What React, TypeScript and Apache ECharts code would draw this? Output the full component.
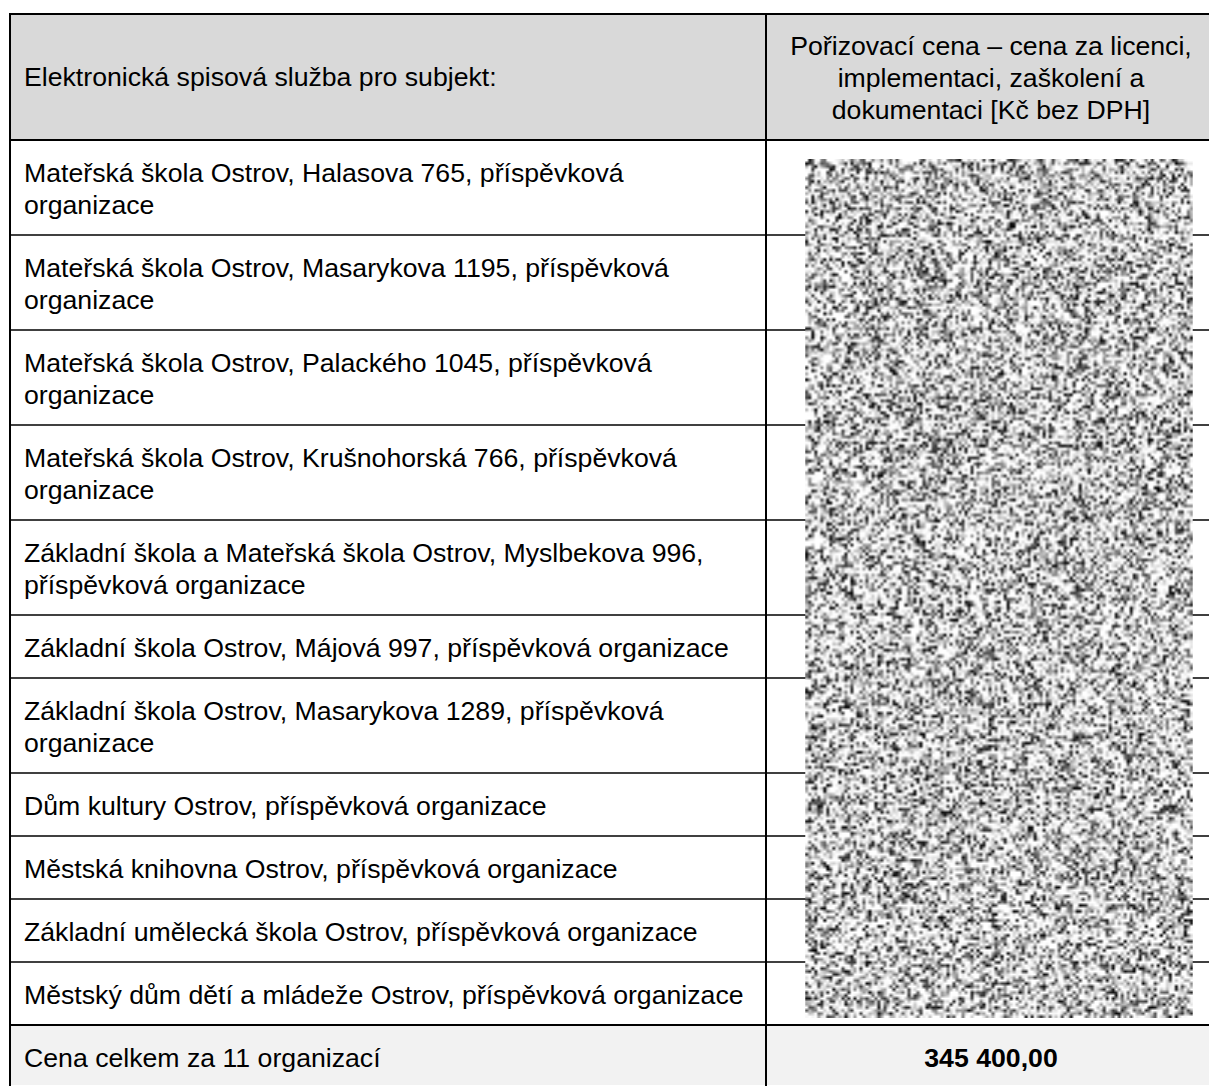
import React, { useEffect, useRef } from "react";
import * as echarts from "echarts";

// ---- content ----
const headerLabels = [
  "Elektronická spisová služba pro subjekt:",
  "Pořizovací cena – cena za licenci,\nimplementaci, zaškolení a\ndokumentaci [Kč bez DPH]",
];
const organizations = [
  "Mateřská škola Ostrov, Halasova 765, příspěvková\norganizace",
  "Mateřská škola Ostrov, Masarykova 1195, příspěvková\norganizace",
  "Mateřská škola Ostrov, Palackého 1045, příspěvková\norganizace",
  "Mateřská škola Ostrov, Krušnohorská 766, příspěvková\norganizace",
  "Základní škola a Mateřská škola Ostrov, Myslbekova 996,\npříspěvková organizace",
  "Základní škola Ostrov, Májová 997, příspěvková organizace",
  "Základní škola Ostrov, Masarykova 1289, příspěvková\norganizace",
  "Dům kultury Ostrov, příspěvková organizace",
  "Městská knihovna Ostrov, příspěvková organizace",
  "Základní umělecká škola Ostrov, příspěvková organizace",
  "Městský dům dětí a mládeže Ostrov, příspěvková organizace",
];
const totalLabel = "Cena celkem za 11 organizací";
const totalValue = "345 400,00";

// ---- layout ----
const L = 10;
const R = 1214;
const DIV = 766;
const TOP = 14;
const HEADER_H = 126;
const LINE_H = 32;
const PAD = 31;
const TOTAL_H = 60;
const FONT = "'Liberation Sans', Arial, sans-serif";
const FS = 26.67;
const TEXT_X = 24;
const COL2_CX = 991;

function makeNoise(w: number, h: number): string {
  const c = document.createElement("canvas");
  c.width = w;
  c.height = h;
  const ctx = c.getContext("2d")!;
  const img = ctx.createImageData(w, h);
  // deterministic texture generator (redaction pattern, not data)
  let s = 123456789;
  const rnd = () => {
    s |= 0;
    s = (s + 0x6d2b79f5) | 0;
    let t = Math.imul(s ^ (s >>> 15), 1 | s);
    t = (t + Math.imul(t ^ (t >>> 7), 61 | t)) ^ t;
    return ((t ^ (t >>> 14)) >>> 0) / 4294967296;
  };
  for (let i = 0; i < w * h; i++) {
    const r = rnd();
    const v = Math.max(0, Math.min(255, Math.round(275 * (1 - Math.pow(r, 2.1)))));
    img.data[i * 4] = v;
    img.data[i * 4 + 1] = v;
    img.data[i * 4 + 2] = v;
    img.data[i * 4 + 3] = 255;
  }
  ctx.putImageData(img, 0, 0);
  return c.toDataURL();
}

export default function App() {
  const ref = useRef<HTMLDivElement>(null);
  useEffect(() => {
    if (!ref.current) return;
    const chart = echarts.init(ref.current, undefined, { renderer: "svg" });
    const els: any[] = [];
    const hline = (y: number, x1: number, x2: number, w: number) =>
      els.push({ type: "rect", shape: { x: x1, y: y - w / 2, width: x2 - x1, height: w }, style: { fill: "#000" }, z: 5 });
    const vline = (x: number, y1: number, y2: number, w: number) =>
      els.push({ type: "rect", shape: { x: x - w / 2, y: y1, width: w, height: y2 - y1 }, style: { fill: "#000" }, z: 5 });
    const text = (t: string, x: number, y: number, align: string, bold = false) =>
      els.push({
        type: "text",
        x,
        y,
        z: 10,
        style: {
          text: t,
          fill: "#000",
          fontSize: FS,
          fontFamily: FONT,
          fontWeight: bold ? "bold" : "normal",
          align,
          verticalAlign: "middle",
          lineHeight: LINE_H,
        },
      });

    // header background
    els.push({ type: "rect", shape: { x: L, y: TOP, width: R - L, height: HEADER_H }, style: { fill: "#d9d9d9" }, z: 1 });
    text(headerLabels[0], TEXT_X, TOP + HEADER_H / 2, "left");
    text(headerLabels[1], COL2_CX, TOP + HEADER_H / 2 + 1, "center");

    let y = TOP + HEADER_H;
    hline(TOP, L - 1, R, 2);
    hline(y, L - 1, R, 2);
    organizations.forEach((org, i) => {
      const lines = org.split("\n").length;
      const h = PAD + LINE_H * lines;
      text(org, TEXT_X, y + h / 2 + 1, "left");
      y += h;
      if (i < organizations.length - 1) hline(y, L - 1, R, 1.6);
    });
    const totalTop = y;
    els.push({ type: "rect", shape: { x: L, y: totalTop, width: R - L, height: TOTAL_H }, style: { fill: "#f2f2f2" }, z: 1 });
    hline(totalTop, L - 1, R, 2);
    text(totalLabel, TEXT_X, totalTop + 33, "left");
    text(totalValue, COL2_CX, totalTop + 33, "center", true);

    vline(L, TOP - 1, 1090, 2);
    vline(DIV, TOP - 1, 1090, 2);

    // redaction overlay
    const nx = 805, ny = 159, nw = 388, nh = 859;
    els.push({
      type: "image",
      x: nx,
      y: ny,
      z: 8,
      style: { image: makeNoise(Math.round(nw / 3), Math.round(nh / 3)), width: nw, height: nh },
    });

    chart.setOption({ animation: false, graphic: { elements: els } });
    return () => chart.dispose();
  }, []);
  return (
    <div
      ref={ref}
      style={{ position: "fixed", left: 0, top: 0, width: 1209, height: 1086, background: "#fff" }}
    />
  );
}
